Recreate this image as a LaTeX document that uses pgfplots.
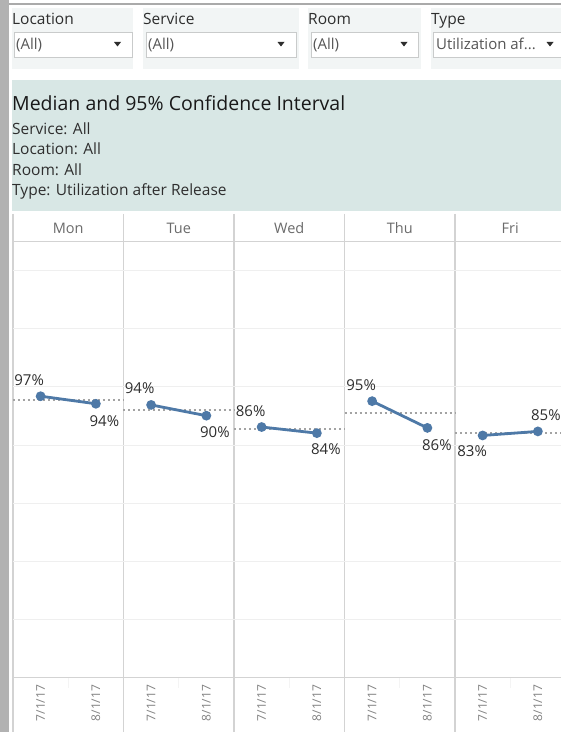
\documentclass[border=0pt]{standalone}
\usepackage{pgfplots}
\pgfplotsset{compat=1.18}
\usepackage{pgfplotstable}
\usepackage{fontspec}
\setmainfont{Open Sans}
\definecolor{tblue}{HTML}{4E79A7}
\definecolor{barg}{HTML}{B2B2B2}
\definecolor{topg}{HTML}{AAAAAA}
\definecolor{fbg}{HTML}{F2F5F5}
\definecolor{tbg}{HTML}{D8E7E5}
\definecolor{ddb}{HTML}{C9CBCB}
\definecolor{textd}{HTML}{2E2E2E}
\definecolor{textm}{HTML}{555555}
\definecolor{hdr}{HTML}{6B6B6B}
\definecolor{sep}{HTML}{D3D3D3}
\definecolor{gridc}{HTML}{EFEFEF}
\definecolor{dotc}{HTML}{A3A3A3}
\newcommand\fs[1]{\fontsize{#1}{#1}\selectfont}

% panel data: x = position within week-day panels, y = percent, lab = label, dx/dy = label offset
\pgfplotstableread[row sep=\\]{x y lab dx dy\\ 0.25 96.8 97 -11.5 16.5\\ 0.75 94.2 94 8.5 -17\\}\mon
\pgfplotstableread[row sep=\\]{x y lab dx dy\\ 1.25 93.8 94 -11.5 17\\ 1.75 90.1 90 8.5 -16\\}\tue
\pgfplotstableread[row sep=\\]{x y lab dx dy\\ 2.25 86.2 86 -11 16\\ 2.75 84.1 84 9 -16.5\\}\wed
\pgfplotstableread[row sep=\\]{x y lab dx dy\\ 3.25 95.1 95 -11 16\\ 3.75 85.9 86 9.5 -17\\}\thu
\pgfplotstableread[row sep=\\]{x y lab dx dy\\ 4.25 83.3 83 -10.5 -16\\ 4.75 84.7 85 8 16\\}\fri

\begin{document}
\begin{tikzpicture}
\useasboundingbox (0pt,0pt) rectangle (561pt,732pt);
\fill[white] (0pt,0pt) rectangle (561pt,732pt);
\begin{scope}[x=1pt, y=1pt, shift={(0pt,732pt)}, yscale=-1]
  % left bar and top line
  \fill[barg] (0,0) rectangle (9,732);
  \fill[topg] (9,3) rectangle (561,5);
  % filter panels
  \fill[fbg] (12,8) rectangle (133,69);
  \fill[fbg] (143,8) rectangle (299,69);
  \fill[fbg] (308,8) rectangle (421,69);
  \fill[fbg] (431,8) rectangle (561,69);
  \draw[ddb, fill=white, line width=0.8pt] (14,32) rectangle (132,57);
  \draw[ddb, fill=white, line width=0.8pt] (146,32) rectangle (296,57);
  \draw[ddb, fill=white, line width=0.8pt] (311,32) rectangle (418,57);
  \draw[ddb, fill=white, line width=0.8pt] (433,32) rectangle (565,57);
  \node[anchor=base west, inner sep=0pt, text=textd, font=\fs{15.5}] at (12,25) {Location};
  \node[anchor=base west, inner sep=0pt, text=textd, font=\fs{15.5}] at (143,25) {Service};
  \node[anchor=base west, inner sep=0pt, text=textd, font=\fs{15.5}] at (308,25) {Room};
  \node[anchor=base west, inner sep=0pt, text=textd, font=\fs{15.5}] at (431,25) {Type};
  \node[anchor=base west, inner sep=0pt, text=textm, font=\fs{15}] at (16,49.5) {(All)};
  \node[anchor=base west, inner sep=0pt, text=textm, font=\fs{15}] at (148,49.5) {(All)};
  \node[anchor=base west, inner sep=0pt, text=textm, font=\fs{15}] at (313,49.5) {(All)};
  \node[anchor=base west, inner sep=0pt, text=textm, font=\fs{15}] at (436,49.5) {Utilization af...};
  \foreach \t in {117.5,281,404,550}{
    \fill[textd] (\t-3.5,42) -- (\t+3.5,42) -- (\t,46.5) -- cycle;
  }
  % title panel
  \fill[tbg] (12,80) rectangle (561,211);
  \node[anchor=base west, inner sep=0pt, text=black!90, font=\fs{19.5}] at (12,111) {Median and 95\% Confidence Interval};
  \node[anchor=base west, inner sep=0pt, text=textd, font=\fs{15.5}] at (12,134.5) {Service: All};
  \node[anchor=base west, inner sep=0pt, text=textd, font=\fs{15.5}] at (12,155) {Location: All};
  \node[anchor=base west, inner sep=0pt, text=textd, font=\fs{15.5}] at (12,175.5) {Room: All};
  \node[anchor=base west, inner sep=0pt, text=textd, font=\fs{15.5}] at (12,196) {Type: Utilization after Release};
  % header and frame lines
  \draw[sep, line width=1.2pt] (13,241.5) -- (561,241.5);
  \draw[sep, line width=1.2pt] (13,677.7) -- (561,677.7);
  \foreach \i in {0,...,5}{
    \draw[sep, line width=1.5pt] (13+110.5*\i,214) -- (13+110.5*\i,732);
  }
  \foreach \i in {0,...,4}{
    \draw[gridc!70!white, line width=0.7pt] (68.25+110.5*\i,678.5) -- (68.25+110.5*\i,688);
  }
  \foreach \d [count=\i from 0] in {Mon,Tue,Wed,Thu,Fri}{
    \node[anchor=base, inner sep=0pt, text=hdr, font=\fs{14.5}] at (68.25+110.5*\i,234) {\d};
  }
\end{scope}

\begin{axis}[
  at={(13pt,54.3pt)}, anchor=south west, scale only axis,
  width=552.5pt, height=436.2pt,
  xmin=0, xmax=5, ymin=0, ymax=150,
  clip=false,
  axis line style={draw=none},
  ytick={20,40,...,140}, yticklabels={},
  ymajorgrids, major y grid style={color=gridc, line width=0.9pt},
  xtick={0.25,0.75,1.25,1.75,2.25,2.75,3.25,3.75,4.25,4.75},
  xticklabels={7/1/17,8/1/17,7/1/17,8/1/17,7/1/17,8/1/17,7/1/17,8/1/17,7/1/17,8/1/17},
  major tick length=0pt,
  xticklabel shift=7pt,
  x tick label style={rotate=90, anchor=east, inner sep=0pt, font=\fs{12}, text=hdr!85!white},
  refline/.style={dotc, line width=2pt, dash pattern=on 2pt off 3pt},
  series/.style={tblue, line width=2.8pt, mark=*, mark size=3.4pt, mark options={solid},
    nodes near coords={\pgfplotspointmeta\%}, point meta=explicit symbolic,
    visualization depends on={\thisrow{dx}\as\dx},
    visualization depends on={\thisrow{dy}\as\dy},
    every node near coord/.style={font=\fs{15}, text=textd, anchor=center, inner sep=0pt,
      xshift=\dx pt, yshift=\dy pt}},
]
\addplot[refline] coordinates {(0,95.5) (1,95.5)};
\addplot[refline] coordinates {(1,91.9) (2,91.9)};
\addplot[refline] coordinates {(2,85.6) (3,85.6)};
\addplot[refline] coordinates {(3,91.0) (4,91.0)};
\addplot[refline] coordinates {(4,84.0) (5,84.0)};
\addplot[series] table[x=x, y=y, meta=lab] {\mon};
\addplot[series] table[x=x, y=y, meta=lab] {\tue};
\addplot[series] table[x=x, y=y, meta=lab] {\wed};
\addplot[series] table[x=x, y=y, meta=lab] {\thu};
\addplot[series] table[x=x, y=y, meta=lab] {\fri};
\end{axis}
\end{tikzpicture}
\end{document}
